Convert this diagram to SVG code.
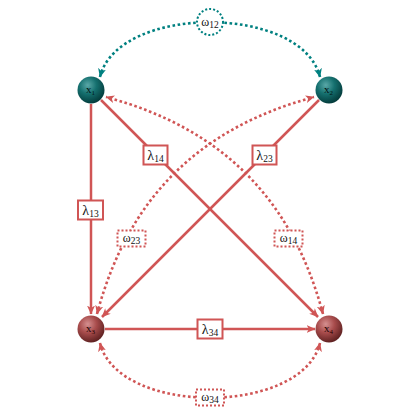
<svg xmlns="http://www.w3.org/2000/svg" width="420" height="420" viewBox="0 0 420 420">
<defs>
<radialGradient id="gTeal" cx="0.38" cy="0.32" r="0.72">
<stop offset="0" stop-color="#5aa8a8"/>
<stop offset="0.45" stop-color="#15706f"/>
<stop offset="1" stop-color="#023838"/>
</radialGradient>
<radialGradient id="gRed" cx="0.38" cy="0.32" r="0.72">
<stop offset="0" stop-color="#d59090"/>
<stop offset="0.45" stop-color="#a84c4c"/>
<stop offset="1" stop-color="#5a1e1e"/>
</radialGradient>
<marker id="aR" viewBox="0 0 9 8" refX="8.5" refY="4" markerWidth="9" markerHeight="8" markerUnits="userSpaceOnUse" orient="auto-start-reverse">
<path d="M0,0 L9,4 L0,8 L2.5,4 z" fill="#d05555"/>
</marker>
<marker id="aT" viewBox="0 0 9 8" refX="8.5" refY="4" markerWidth="9" markerHeight="8" markerUnits="userSpaceOnUse" orient="auto-start-reverse">
<path d="M0,0 L9,4 L0,8 L2.5,4 z" fill="#008080"/>
</marker>
</defs>
<style>
.solid{fill:none;stroke:#d05555;stroke-width:2.5}
.dotR{fill:none;stroke:#d05555;stroke-width:2.6;stroke-dasharray:2.6 2.6}
.dotT{fill:none;stroke:#008080;stroke-width:2.6;stroke-dasharray:2.6 2.6}
.lbox{fill:#fff;stroke:#d05555;stroke-width:2}
.dbox{fill:#fff;stroke:#d05555;stroke-width:2;stroke-dasharray:2 2}
.dcirc{fill:#fff;stroke:#008080;stroke-width:2;stroke-dasharray:2 2}
.lt{font-family:"Liberation Serif","DejaVu Serif",serif;font-size:14px;fill:#111;text-anchor:middle}
.sub{font-size:9.5px}
.nt{font-family:"Liberation Serif","DejaVu Serif",serif;font-size:11px;text-anchor:middle}
.ns{font-size:7px}
</style>
<g id="connectors">
<path class="dotT" d="M100,77 C118,4 302,4 320,77" marker-start="url(#aT)" marker-end="url(#aT)"/>
<path class="dotR" d="M100,343 C118,416 302,416 320,343" marker-start="url(#aR)" marker-end="url(#aR)"/>
<path class="dotR" d="M97,314 C128,198 199,128 314,97" marker-start="url(#aR)" marker-end="url(#aR)"/>
<path class="dotR" d="M323,314 C292,198 221,128 106,97" marker-start="url(#aR)" marker-end="url(#aR)"/>
<path class="solid" d="M91,104 L91,314" marker-end="url(#aR)"/>
<path class="solid" d="M101,100 L318,317" marker-end="url(#aR)"/>
<path class="solid" d="M319,100 L102,317" marker-end="url(#aR)"/>
<path class="solid" d="M105,329 L315,329" marker-end="url(#aR)"/>
</g>
<g id="label-w12"><circle class="dcirc" cx="210" cy="22" r="13"/><text class="lt" x="210" y="26" style="font-size:12px">ω<tspan class="sub" dy="2">12</tspan></text></g>
<g id="label-w34"><rect class="dbox" x="196" y="389.5" width="28" height="16"/><text class="lt" x="210" y="401" style="font-size:12px">ω<tspan class="sub" dy="2">34</tspan></text></g>
<g id="label-w23"><rect class="dbox" x="117.5" y="230.5" width="28" height="16"/><text class="lt" x="131.5" y="242" style="font-size:12px">ω<tspan class="sub" dy="2">23</tspan></text></g>
<g id="label-w14"><rect class="dbox" x="274.5" y="230.5" width="28" height="16"/><text class="lt" x="288.5" y="242" style="font-size:12px">ω<tspan class="sub" dy="2">14</tspan></text></g>
<g id="label-l13"><rect class="lbox" x="78" y="200.5" width="25" height="19"/><text class="lt" x="90.5" y="214.5">λ<tspan class="sub" dy="2">13</tspan></text></g>
<g id="label-l14"><rect class="lbox" x="143.5" y="145.5" width="24" height="19"/><text class="lt" x="155.5" y="159.5">λ<tspan class="sub" dy="2">14</tspan></text></g>
<g id="label-l23"><rect class="lbox" x="252.5" y="145.5" width="24" height="19"/><text class="lt" x="264.5" y="159.5">λ<tspan class="sub" dy="2">23</tspan></text></g>
<g id="label-l34"><rect class="lbox" x="197.5" y="319.5" width="25" height="19"/><text class="lt" x="210" y="333.5">λ<tspan class="sub" dy="2">34</tspan></text></g>
<g id="node-x1"><circle cx="91" cy="90" r="13.5" fill="url(#gTeal)"/><text class="nt" x="90.5" y="93" fill="#011">x<tspan class="ns" dy="1.5">1</tspan></text></g>
<g id="node-x2"><circle cx="329" cy="90" r="13.5" fill="url(#gTeal)"/><text class="nt" x="328.5" y="93" fill="#011">x<tspan class="ns" dy="1.5">2</tspan></text></g>
<g id="node-x3"><circle cx="91" cy="329" r="13.5" fill="url(#gRed)"/><text class="nt" x="90.5" y="332" fill="#200">x<tspan class="ns" dy="1.5">3</tspan></text></g>
<g id="node-x4"><circle cx="329" cy="329" r="13.5" fill="url(#gRed)"/><text class="nt" x="328.5" y="332" fill="#200">x<tspan class="ns" dy="1.5">4</tspan></text></g>
</svg>
